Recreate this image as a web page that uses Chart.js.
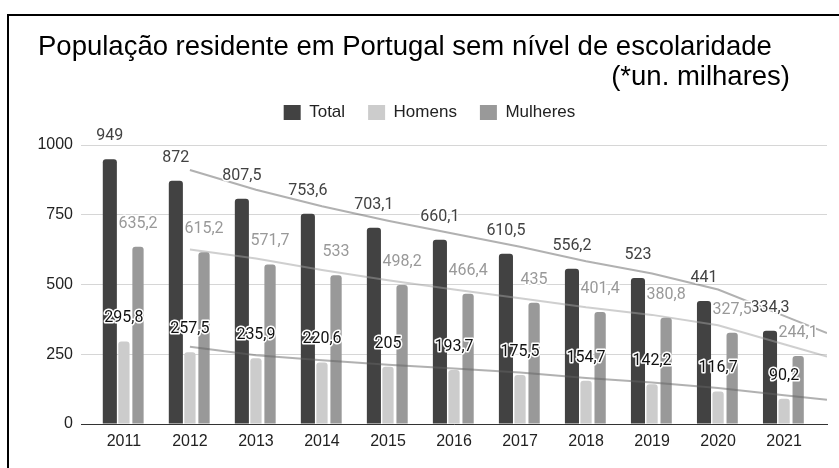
<!DOCTYPE html>
<html>
<head>
<meta charset="utf-8">
<script src="https://cdn.jsdelivr.net/npm/chart.js@4.4.0/dist/chart.umd.min.js"></script>
<style>
  html, body { margin: 0; padding: 0; background: #fff; overflow: hidden; }
  canvas { display: block; }
</style>
</head>
<body>
<canvas id="chart" width="839" height="468"></canvas>
<script>
const years = ['2011', '2012', '2013', '2014', '2015', '2016', '2017', '2018', '2019', '2020', '2021'];
const total = [949, 872, 807.5, 753.6, 703.1, 660.1, 610.5, 556.2, 523, 441, 334.3];
const homens = [295.8, 257.5, 235.9, 220.6, 205, 193.7, 175.5, 154.7, 142.2, 116.7, 90.2];
const mulheres = [635.2, 615.2, 571.7, 533, 498.2, 466.4, 435, 401.4, 380.8, 327.5, 244.1];
const yTicks = [0, 250, 500, 750, 1000];

const xMin = -0.65, xMax = 10.65;

// Trendline: moving average (period 2), extended to the right edge like Sheets does
function trend(values) {
    const pts = [];
    for (let i = 1; i < values.length; i++) {
        pts.push({ x: i, y: (values[i] + values[i - 1]) / 2 });
    }
    const a = pts[pts.length - 2], b = pts[pts.length - 1];
    pts.push({ x: xMax, y: b.y + (b.y - a.y) * (xMax - b.x) });
    return pts;
}

const toXY = values => values.map((v, i) => ({ x: i, y: v }));
const fmt = v => String(v).replace('.', ',');

const titlePlugin = {
    id: 'titleFrame',
    beforeDraw(chart) {
        const ctx = chart.ctx;
        ctx.save();
        ctx.fillStyle = '#000';
        ctx.fillRect(8, 14, chart.width - 8, 2);
        ctx.fillRect(7, 14, 2, chart.height - 14);
        ctx.font = '27.5px "Liberation Sans", Arial, sans-serif';
        ctx.textBaseline = 'alphabetic';
        ctx.textAlign = 'left';
        ctx.fillText('População residente em Portugal sem nível de escolaridade', 38, 55);
        ctx.textAlign = 'right';
        ctx.fillText('(*un. milhares)', 790, 85);
        ctx.restore();
    },
    beforeLayout(chart) {
        // extra room between legend and plot
        const legend = chart.legend;
        if (legend && !legend._patched) {
            const fit = legend.fit;
            legend.fit = function () {
                fit.call(legend);
                this.height += 14;
            };
            legend._patched = true;
        }
    }
};

const labelColors = ['#424242', '#111111', '#999999'];
const valueLabels = {
    id: 'valueLabels',
    afterDatasetsDraw(chart) {
        const ctx = chart.ctx;
        ctx.save();
        ctx.font = '16px Roboto, sans-serif';
        ctx.textAlign = 'center';
        ctx.textBaseline = 'middle';
        ctx.lineJoin = 'round';
        [0, 1, 2].forEach(di => {
            const meta = chart.getDatasetMeta(di);
            const data = chart.data.datasets[di].data;
            meta.data.forEach((bar, j) => {
                const text = fmt(data[j].y);
                const y = bar.y - 23;
                ctx.strokeStyle = '#fff';
                ctx.lineWidth = 3;
                ctx.strokeText(text, bar.x, y);
                ctx.fillStyle = labelColors[di];
                ctx.fillText(text, bar.x, y);
            });
        });
        ctx.restore();
    }
};

const barCommon = {
    type: 'bar',
    order: 2,
    borderRadius: { topLeft: 3, topRight: 3 },
    borderSkipped: 'start',
    categoryPercentage: 0.64
};
const lineCommon = {
    type: 'line',
    order: 1,
    borderWidth: 2,
    pointRadius: 0,
    fill: false,
    tension: 0
};

new Chart(document.getElementById('chart'), {
    data: {
        datasets: [
            { ...barCommon, label: 'Total', data: toXY(total), backgroundColor: '#424242', barPercentage: 1.0 },
            { ...barCommon, label: 'Homens', data: toXY(homens), backgroundColor: '#cccccc', barPercentage: 0.8 },
            { ...barCommon, label: 'Mulheres', data: toXY(mulheres), backgroundColor: '#999999', barPercentage: 0.8 },
            { ...lineCommon, label: 'Tendência Total', data: trend(total), borderColor: 'rgba(100,100,100,0.5)' },
            { ...lineCommon, label: 'Tendência Homens', data: trend(homens), borderColor: 'rgba(100,100,100,0.5)' },
            { ...lineCommon, label: 'Tendência Mulheres', data: trend(mulheres), borderColor: 'rgba(160,160,160,0.5)' }
        ]
    },
    options: {
        responsive: false,
        animation: false,
        layout: { padding: { left: 32, right: 12, top: 81, bottom: 0 } },
        plugins: {
            legend: {
                position: 'top',
                labels: {
                    boxWidth: 17,
                    boxHeight: 15,
                    padding: 23,
                    color: '#222',
                    font: { family: '"Liberation Sans", Arial, sans-serif', size: 17 },
                    filter: item => item.datasetIndex < 3
                }
            },
            title: { display: false },
            tooltip: { enabled: false }
        },
        scales: {
            x: {
                type: 'linear',
                offset: false,
                min: xMin,
                max: xMax,
                afterBuildTicks: s => { s.ticks = years.map((y, i) => ({ value: i })); },
                afterFit: s => { s.height = 44; s.paddingLeft = 0; s.paddingRight = 0; },
                grid: { display: false, drawTicks: false, offset: false },
                border: { display: true, color: '#333', width: 1 },
                ticks: {
                    autoSkip: false,
                    maxRotation: 0,
                    padding: 8,
                    color: '#222',
                    font: { family: '"Liberation Sans", Arial, sans-serif', size: 16 },
                    callback: v => years[v]
                }
            },
            y: {
                min: 0,
                max: 1000,
                afterBuildTicks: s => { s.ticks = yTicks.map(v => ({ value: v })); },
                afterFit: s => { s.width = 49; },
                grid: { color: '#d6d6d6', drawTicks: false },
                border: { display: false },
                ticks: {
                    padding: 8,
                    color: '#222',
                    font: { family: '"Liberation Sans", Arial, sans-serif', size: 16 },
                    callback: v => String(v)
                }
            }
        }
    },
    plugins: [titlePlugin, valueLabels]
});
</script>
</body>
</html>
